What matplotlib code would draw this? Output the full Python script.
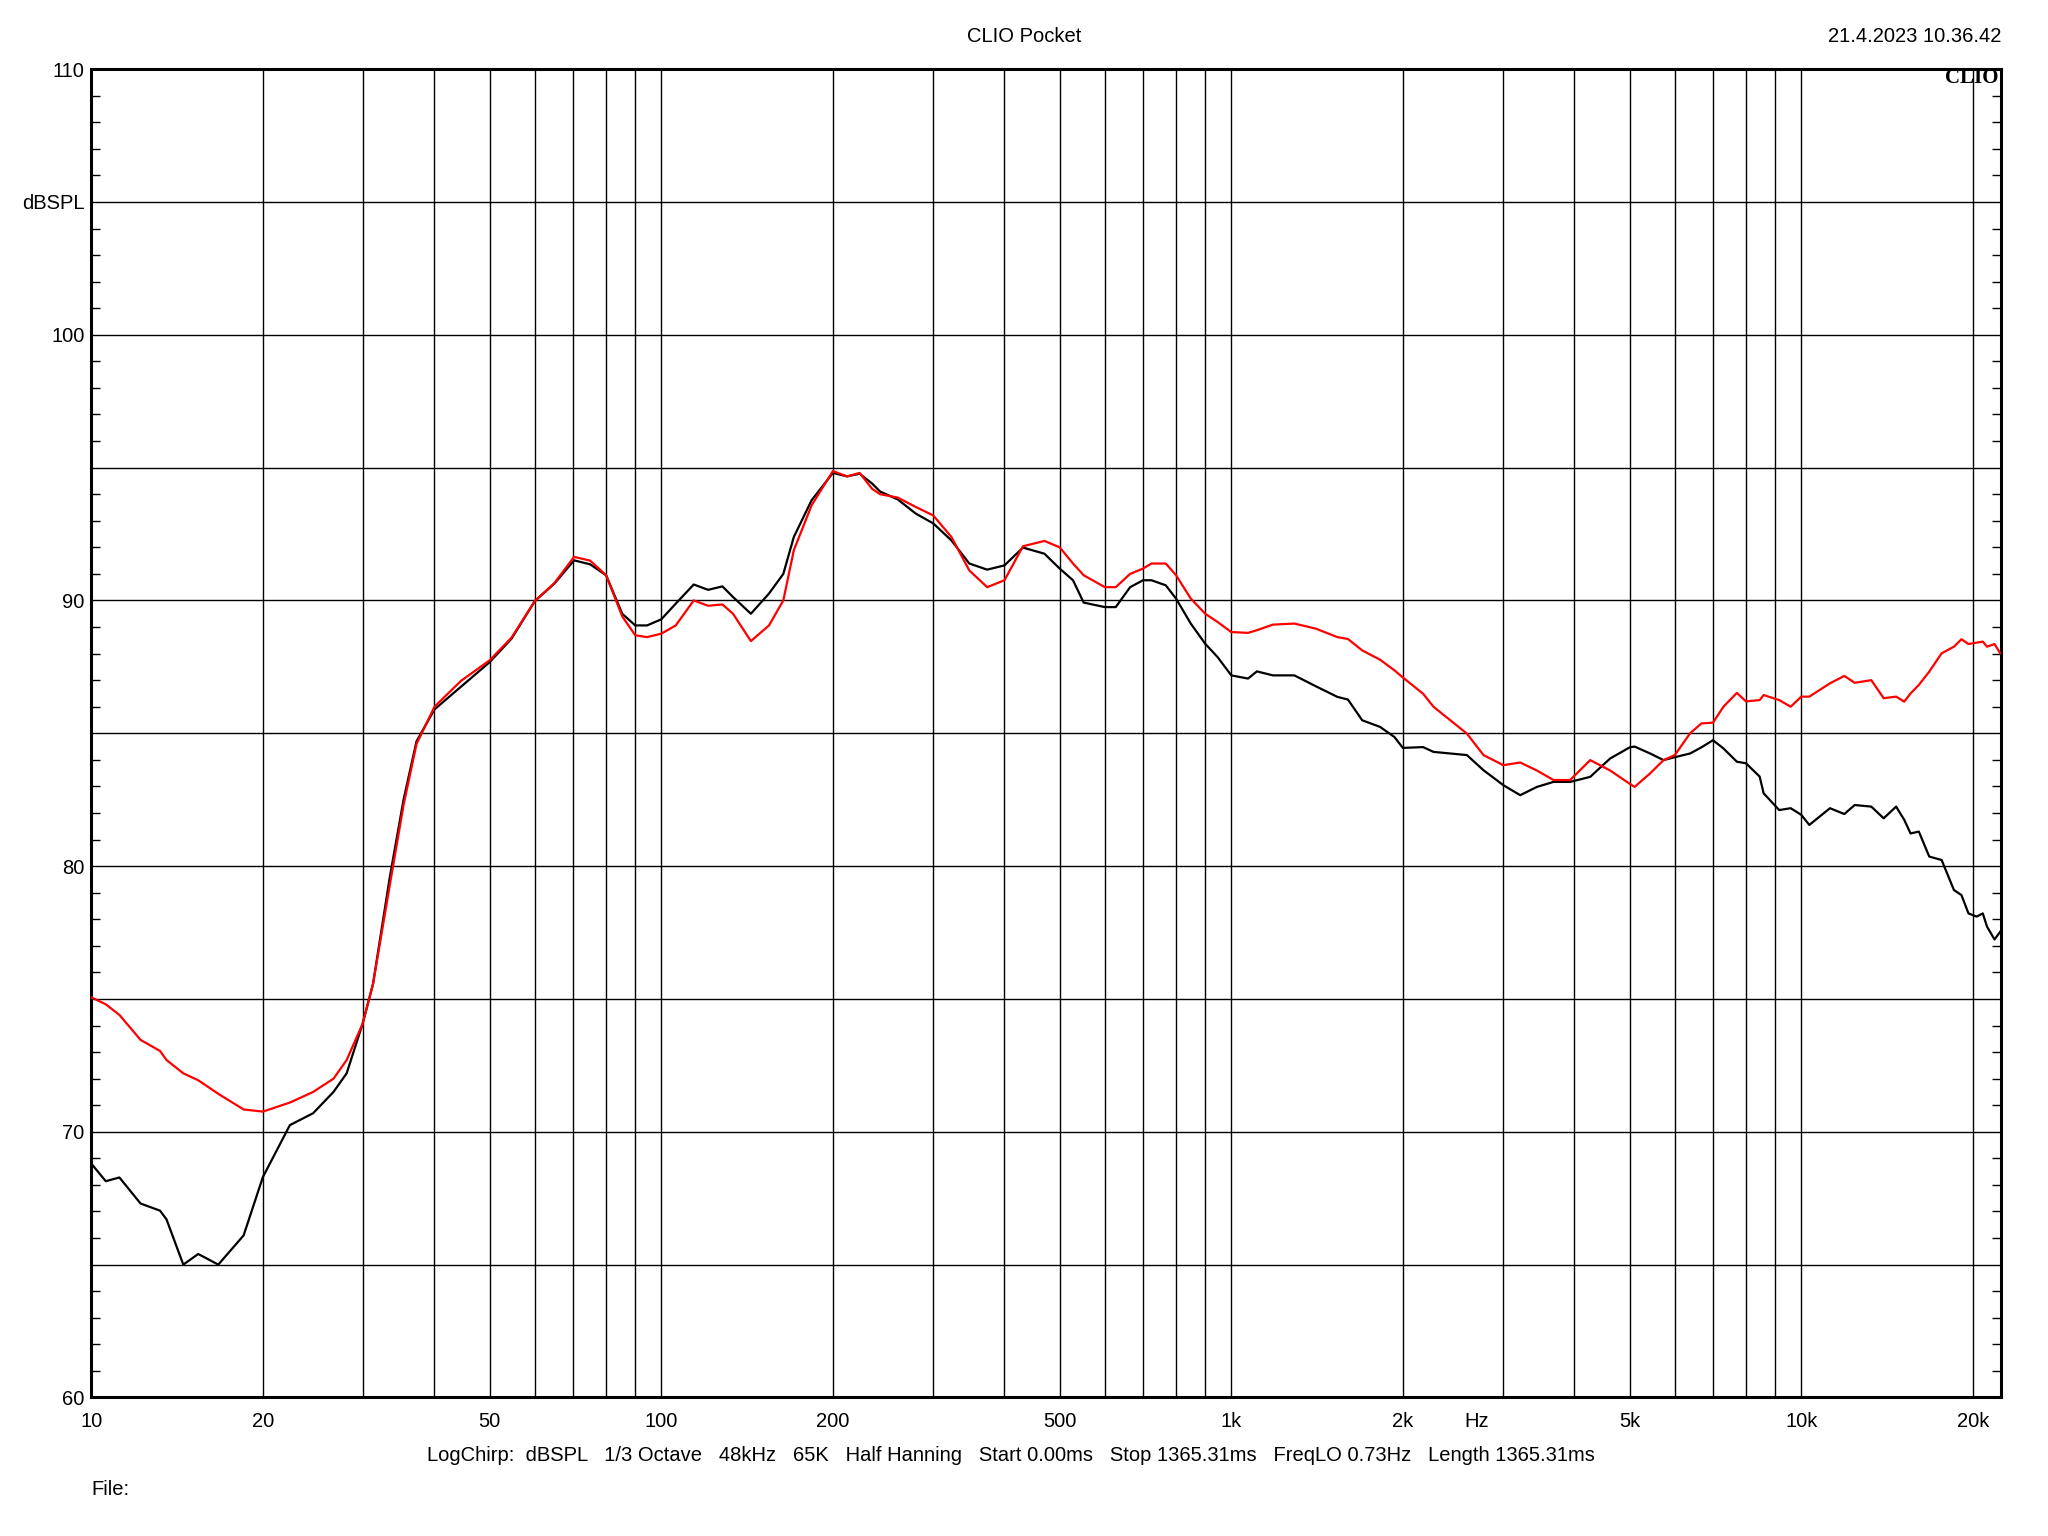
import numpy as np
import matplotlib
matplotlib.use("Agg")
import matplotlib.pyplot as plt
from matplotlib.ticker import FixedLocator, NullFormatter

plt.rcParams['font.family'] = ['Liberation Sans', 'DejaVu Sans']

# frequency points (Hz)
freq = [10, 10.6, 11.2, 12.2, 13.2, 13.55, 14.5, 15.4, 16.7, 18.5,
        20, 22.3, 24.5, 26.6, 28.05, 29.9, 31.2, 33.4, 35.3, 37.2,
        40, 44.5, 50, 54.6, 60, 64.9, 70.3, 75, 80, 85.4,
        90, 94.4, 100, 106, 114, 120.8, 128, 133.6, 143.6, 154.5,
        163.7, 170.8, 183.5, 200, 211.8, 222.8, 234.4, 242, 260, 279.5,
        300, 322.8, 347, 373, 400, 431, 470, 500, 527.6, 550.8,
        600, 627, 664.5, 700, 724.4, 767.4, 800, 849, 900, 946,
        1000, 1070, 1109, 1183, 1290, 1407, 1535, 1602, 1697, 1824,
        1933, 2000, 2170, 2263, 2590, 2770, 3000, 3213, 3436, 3675,
        3931, 4263, 4620, 5000, 5100, 5430, 5733, 6000, 6383, 6680,
        7000, 7302, 7709, 8000, 8453, 8590, 9147, 9582, 10000, 10330,
        11230, 11900, 12410, 13270, 13950, 14670, 15160, 15550, 16080, 16770,
        17630, 18530, 19100, 19650, 20310, 20820, 21180, 21830, 22340]

spl_black = [68.8, 68.14, 68.28, 67.3, 67.03, 66.7, 65.0, 65.4, 65.0, 66.1,
             68.3, 70.25, 70.7, 71.5, 72.2, 74.05, 75.56, 79.6, 82.5, 84.7,
             85.9, 86.75, 87.68, 88.56, 89.98, 90.63, 91.51, 91.36, 90.95, 89.5,
             89.06, 89.06, 89.29, 89.88, 90.6, 90.4, 90.53, 90.13, 89.5, 90.26,
             91.0, 92.39, 93.77, 94.8, 94.67, 94.77, 94.4, 94.1, 93.8, 93.27,
             92.9, 92.26, 91.39, 91.16, 91.32, 91.99, 91.76, 91.2, 90.76, 89.92,
             89.75, 89.75, 90.5, 90.76, 90.76, 90.57, 90.07, 89.13, 88.37, 87.87,
             87.18, 87.06, 87.33, 87.18, 87.18, 86.77, 86.37, 86.27, 85.49, 85.24,
             84.86, 84.45, 84.48, 84.3, 84.18, 83.61, 83.05, 82.67, 82.98, 83.17,
             83.17, 83.36, 84.05, 84.47, 84.5, 84.24, 83.99, 84.1, 84.24, 84.47,
             84.74, 84.43, 83.93, 83.87, 83.37, 82.74, 82.11, 82.18, 81.93, 81.55,
             82.18, 81.96, 82.3, 82.24, 81.8, 82.24, 81.74, 81.23, 81.3, 80.36,
             80.23, 79.1, 78.91, 78.22, 78.1, 78.22, 77.72, 77.24, 77.53]

spl_red = [75.06, 74.8, 74.4, 73.46, 73.04, 72.7, 72.2, 71.94, 71.43, 70.84,
           70.76, 71.1, 71.5, 72.0, 72.7, 74.05, 75.56, 79.3, 82.3, 84.6,
           86.0, 86.97, 87.75, 88.6, 89.98, 90.65, 91.64, 91.5, 90.95, 89.4,
           88.69, 88.62, 88.75, 89.06, 90.0, 89.8, 89.85, 89.5, 88.47, 89.06,
           90.0, 91.89, 93.58, 94.87, 94.67, 94.8, 94.2, 94.0, 93.87, 93.52,
           93.2, 92.39, 91.13, 90.5, 90.76, 92.04, 92.24, 92.0, 91.39, 90.95,
           90.5, 90.5, 91.0, 91.2, 91.39, 91.39, 90.95, 90.07, 89.5, 89.19,
           88.81, 88.78, 88.88, 89.09, 89.13, 88.94, 88.62, 88.55, 88.12, 87.77,
           87.37, 87.1, 86.49, 86.0, 84.99, 84.18, 83.8, 83.9, 83.6, 83.24,
           83.24, 83.99, 83.6, 83.1, 82.98, 83.49, 83.99, 84.18, 85.0, 85.37,
           85.4, 86.0, 86.52, 86.2, 86.25, 86.44, 86.25, 86.0, 86.38, 86.38,
           86.88, 87.16, 86.9, 87.0, 86.32, 86.38, 86.19, 86.5, 86.82, 87.32,
           88.01, 88.26, 88.54, 88.36, 88.41, 88.45, 88.26, 88.36, 88.01]

x_major = [10, 20, 50, 100, 200, 500, 1000, 2000, 5000, 10000, 20000]
x_labels = ['10', '20', '50', '100', '200', '500', '1k', '2k', '5k', '10k', '20k']
y_major = [60, 65, 70, 75, 80, 85, 90, 95, 100, 105, 110]
y_labels = ['60', '', '70', '', '80', '', '90', '', '100', 'dBSPL', '110']

info = ("LogChirp:  dBSPL   1/3 Octave   48kHz   65K   Half Hanning   "
        "Start 0.00ms   Stop 1365.31ms   FreqLO 0.73Hz   Length 1365.31ms")

fs = 14.5

fig = plt.figure(figsize=(20.48, 15.36), dpi=100)
ax = fig.add_axes([0.0446, 0.0902, 0.9324, 0.8648])

ax.plot(freq, spl_black, color='black', lw=1.6, zorder=3)
ax.plot(freq, spl_red, color='#ff0000', lw=1.6, zorder=4)

ax.set_xscale('log')
ax.set_xlim(10, 22400)
ax.set_ylim(60, 110)

# vertical grid at every 1..9 multiple
x_minor = [m * d for d in [10, 100, 1000, 10000] for m in range(1, 10)
           if m * d not in x_major and m * d < 22400]
ax.xaxis.set_major_locator(FixedLocator(x_major))
ax.xaxis.set_minor_locator(FixedLocator(x_minor))
ax.xaxis.set_minor_formatter(NullFormatter())
ax.set_xticklabels(x_labels)
ax.set_yticks(y_major)
ax.set_yticklabels(y_labels)
ax.yaxis.set_minor_locator(FixedLocator([v for v in range(60, 111) if v % 5]))

ax.grid(True, which='both', axis='x', color='black', lw=1.0)
ax.grid(True, which='major', axis='y', color='black', lw=1.0)
ax.set_axisbelow(True)

ax.tick_params(axis='x', which='both', length=0, pad=10.5, labelsize=fs)
ax.tick_params(axis='y', which='major', length=0, pad=5, labelsize=fs)
ax.tick_params(axis='y', which='minor', direction='in', length=6.5, width=1.0,
               left=True, right=True)
for s in ax.spines.values():
    s.set_linewidth(2.2)

ax.text(0.9985, 0.9936, 'CLIO', transform=ax.transAxes, ha='right', va='center',
        family='Liberation Serif', fontweight='bold', fontsize=15, zorder=5)

fig.text(0.5, 0.9765, 'CLIO Pocket', ha='center', va='center', fontsize=fs)
fig.text(0.977, 0.9765, '21.4.2023 10.36.42', ha='right', va='center', fontsize=fs)
fig.text(0.7212, 0.0745, 'Hz', ha='center', va='center', fontsize=fs)
fig.text(0.4937, 0.0522, info, ha='center', va='center', fontsize=fs)
fig.text(0.0446, 0.0302, 'File:', ha='left', va='center', fontsize=fs)

fig.savefig('out.png', dpi=100, facecolor='white')
